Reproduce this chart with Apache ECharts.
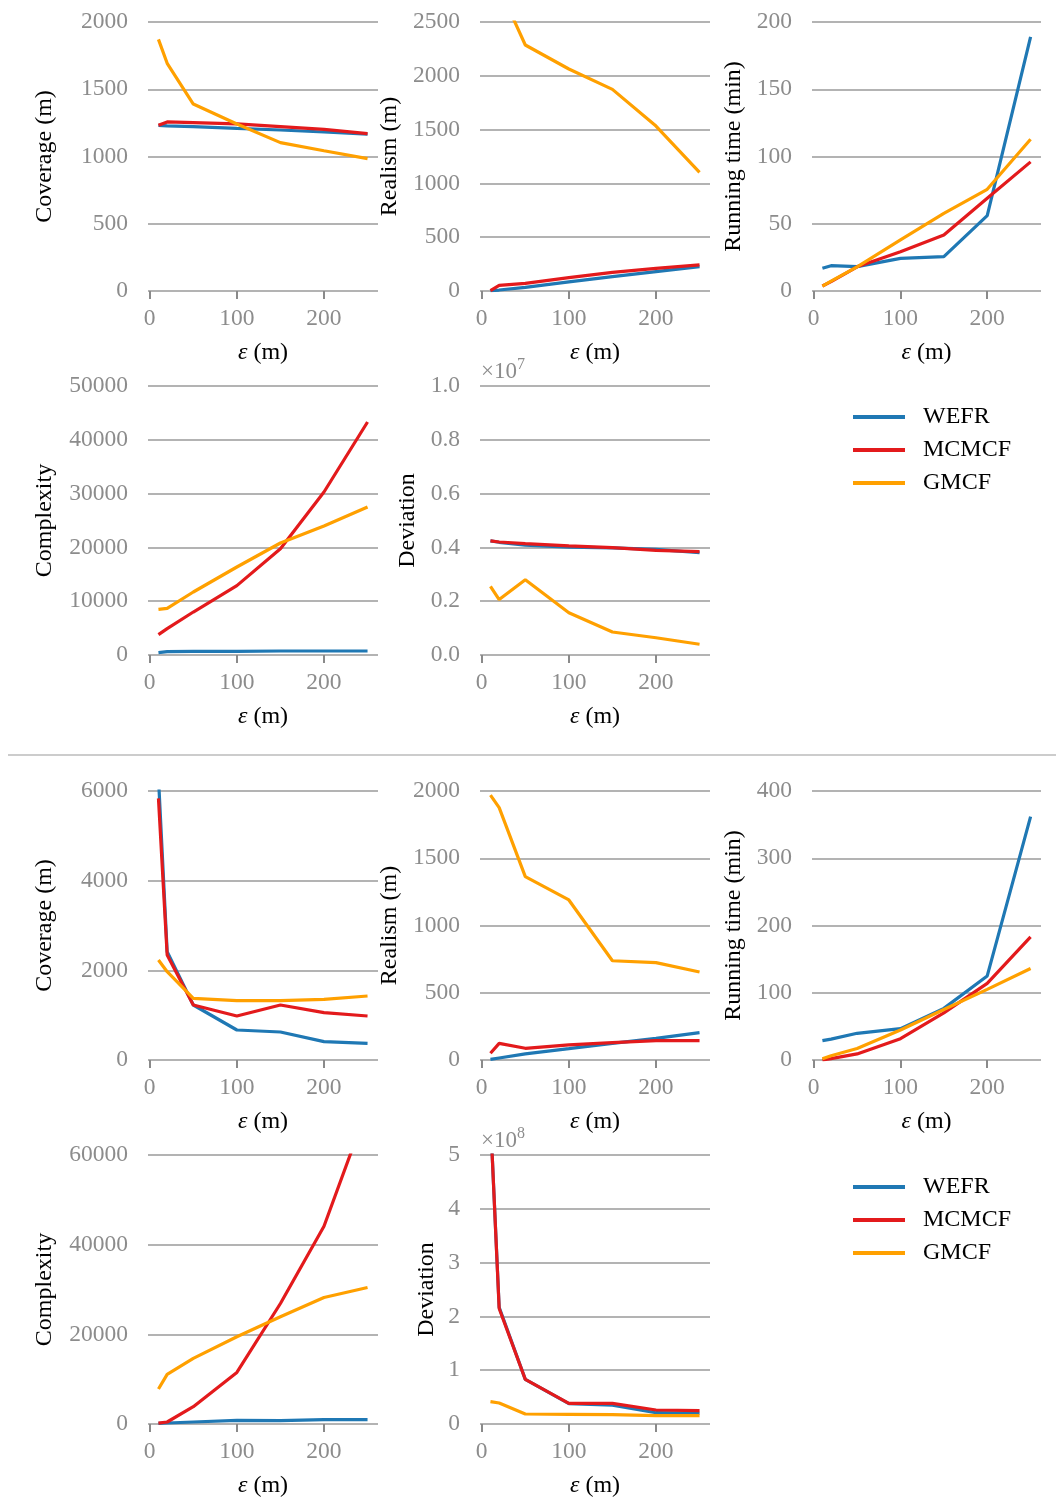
<!DOCTYPE html>
<html>
<head>
<meta charset="utf-8">
<script src="https://cdn.jsdelivr.net/npm/echarts@6/dist/echarts.min.js"></script>
<style>
  html, body { margin: 0; padding: 0; background: #fff; }
  #chart { width: 1056px; height: 1499px; }
</style>
</head>
<body>
<div id="chart"></div>
<script>
// Tolerance ε (m) at which every method was evaluated
const epsilon = [10, 20, 50, 100, 150, 200, 250];
const methods = ['WEFR', 'MCMCF', 'GMCF'];
const xTicks = [0, 100, 200];

// First data set — rows follow the order of `methods`
const coverageA = [
  [1232, 1227, 1222, 1209, 1197, 1182, 1167],
  [1232, 1257, 1252, 1242, 1222, 1202, 1170],
  [1871, 1693, 1390, 1242, 1103, 1043, 984]
];
const realismA = [
  [3, 9, 34, 84, 133, 180, 226],
  [3, 53, 71, 124, 173, 211, 242],
  [3050, 2820, 2286, 2063, 1874, 1533, 1103]
];
const runtimeA = [
  [16.9, 18.8, 18.1, 24.3, 25.5, 56, 189],
  [3.7, 7.0, 18, 29.2, 41.6, 69, 96],
  [3.7, 7.3, 18, 38, 57.7, 75.6, 112.8]
];
const complexityA = [
  [434, 620, 680, 680, 740, 740, 740],
  [3780, 4895, 7990, 12890, 19765, 30297, 43309],
  [8488, 8674, 11710, 16357, 20818, 23978, 27509]
];
const deviationA = [
  [4.24e6, 4.19e6, 4.08e6, 4.01e6, 3.98e6, 3.93e6, 3.80e6],
  [4.24e6, 4.20e6, 4.14e6, 4.06e6, 3.99e6, 3.89e6, 3.84e6],
  [2.55e6, 2.06e6, 2.80e6, 1.57e6, 0.855e6, 0.64e6, 0.40e6]
];

// Second data set
const coverageB = [
  [6300, 2416, 1227, 669, 625, 409, 372],
  [5836, 2342, 1227, 981, 1227, 1056, 981],
  [2230, 1970, 1375, 1323, 1323, 1353, 1428]
];
const realismB = [
  [5, 15, 45, 84, 124, 161, 203],
  [50, 124, 87, 112, 129, 144, 144],
  [1970, 1876, 1363, 1190, 738, 724, 654]
];
const runtimeB = [
  [28.7, 31, 39.7, 46.6, 76.8, 125, 362],
  [0, 2, 9, 31.7, 70, 114, 183],
  [2, 6.4, 17, 44.6, 75, 105, 136]
];
const complexityB = [
  [150, 220, 445, 817, 742, 965, 965],
  [200, 445, 3861, 11510, 26881, 44109, 70600],
  [7797, 11064, 14629, 19455, 23911, 28218, 30446]
];
const deviationB = [
  [5.7e8, 2.17e8, 0.83e8, 0.38e8, 0.35e8, 0.21e8, 0.20e8],
  [5.7e8, 2.147e8, 0.829e8, 0.384e8, 0.384e8, 0.26e8, 0.248e8],
  [0.415e8, 0.39e8, 0.186e8, 0.18e8, 0.173e8, 0.155e8, 0.155e8]
];

// Y-axis tick settings: [max, interval] per panel
const yTicksCoverageA = [2000, 500];
const yTicksRealismA = [2500, 500];
const yTicksRuntimeA = [200, 50];
const yTicksComplexityA = [50000, 10000];
const yTicksDeviationA = [1e7, 2e6];
const yTicksCoverageB = [6000, 2000];
const yTicksRealismB = [2000, 500];
const yTicksRuntimeB = [400, 100];
const yTicksComplexityB = [60000, 20000];
const yTicksDeviationB = [5e8, 1e8];

const colors = ['#1f78b4', '#e31a1c', '#ffa000'];
const SERIF = "'Liberation Serif', 'DejaVu Serif', serif";
const TICK_COLOR = '#8c8c8c';
const GRID_COLOR = '#b3b3b3';

const colLeft = [148, 480, 812];
const colWidth = [230, 230, 229];
const rowTop = [22, 386, 791, 1155];
const plotHeight = 269;

// Panel layout: column, row, data, y ticks, axis title, title gap, label scaling
const panels = [
  { c: 0, r: 0, data: coverageA, y: yTicksCoverageA, title: 'Coverage (m)', gap: 91 },
  { c: 1, r: 0, data: realismA, y: yTicksRealismA, title: 'Realism (m)', gap: 78 },
  { c: 2, r: 0, data: runtimeA, y: yTicksRuntimeA, title: 'Running time (min)', gap: 66 },
  { c: 0, r: 1, data: complexityA, y: yTicksComplexityA, title: 'Complexity', gap: 91 },
  { c: 1, r: 1, data: deviationA, y: yTicksDeviationA, title: 'Deviation', gap: 60, scale: 1e7, digits: 1 },
  { c: 0, r: 2, data: coverageB, y: yTicksCoverageB, title: 'Coverage (m)', gap: 91 },
  { c: 1, r: 2, data: realismB, y: yTicksRealismB, title: 'Realism (m)', gap: 78 },
  { c: 2, r: 2, data: runtimeB, y: yTicksRuntimeB, title: 'Running time (min)', gap: 66 },
  { c: 0, r: 3, data: complexityB, y: yTicksComplexityB, title: 'Complexity', gap: 91 },
  { c: 1, r: 3, data: deviationB, y: yTicksDeviationB, title: 'Deviation', gap: 41, scale: 1e8, digits: 0 }
];

const grid = [], xAxis = [], yAxis = [], series = [];

panels.forEach((p, i) => {
  grid.push({
    left: colLeft[p.c], top: rowTop[p.r], width: colWidth[p.c], height: plotHeight,
    containLabel: false, outerBoundsMode: 'none'
  });
  xAxis.push({
    gridIndex: i, type: 'value', min: -2, max: 262,
    axisLine: { show: false },
    splitLine: { show: false },
    axisTick: { show: true, customValues: xTicks, length: 8, lineStyle: { color: '#8a8a8a', width: 2 } },
    axisLabel: { customValues: xTicks, margin: 16, fontFamily: SERIF, fontSize: 23.5, color: TICK_COLOR },
    name: '{e|ε} (m)', nameLocation: 'middle', nameGap: 50, nameMoveOverlap: false,
    nameTextStyle: {
      fontFamily: SERIF, fontSize: 24, color: '#000',
      rich: { e: { fontFamily: SERIF, fontSize: 24, fontStyle: 'italic', color: '#000' } }
    }
  });
  yAxis.push({
    gridIndex: i, type: 'value', min: 0, max: p.y[0], interval: p.y[1],
    axisLine: { show: false }, axisTick: { show: false },
    splitLine: { show: true, lineStyle: { color: GRID_COLOR, width: 2 } },
    axisLabel: {
      margin: 20, fontFamily: SERIF, fontSize: 23.5, color: TICK_COLOR,
      formatter: p.scale ? (v) => (v / p.scale).toFixed(p.digits) : (v) => String(v)
    },
    name: p.title, nameLocation: 'middle', nameGap: p.gap, nameRotate: 90, nameMoveOverlap: false,
    nameTextStyle: { fontFamily: SERIF, fontSize: 24, color: '#000' }
  });
  methods.forEach((m, k) => {
    series.push({
      name: m, type: 'line', xAxisIndex: i, yAxisIndex: i,
      data: epsilon.map((x, j) => [x, p.data[k][j]]),
      showSymbol: false, symbol: 'none', clip: true,
      lineStyle: { color: colors[k], width: 3.2 },
      itemStyle: { color: colors[k] },
      z: 2 + k
    });
  });
});

const legendBase = {
  orient: 'vertical', left: 848, data: methods,
  icon: 'rect', itemWidth: 52, itemHeight: 4, itemGap: 9,
  textStyle: { fontFamily: SERIF, fontSize: 24, color: '#000', lineHeight: 24, padding: [0, 0, 0, 13] }
};

const offsetText = (top, exp) => ({
  type: 'text', left: 481, top: top,
  style: {
    text: '{a|×10}{s|' + exp + '}',
    rich: {
      a: { fontFamily: SERIF, fontSize: 23, fill: TICK_COLOR, verticalAlign: 'bottom', lineHeight: 26 },
      s: { fontFamily: SERIF, fontSize: 16, fill: TICK_COLOR, verticalAlign: 'top', lineHeight: 26 }
    }
  }
});

const chart = echarts.init(document.getElementById('chart'), null, { renderer: 'canvas' });
chart.setOption({
  animation: false,
  backgroundColor: '#fff',
  grid, xAxis, yAxis, series,
  legend: [
    Object.assign({}, legendBase, { top: 400 }),
    Object.assign({}, legendBase, { top: 1170 })
  ],
  graphic: [
    { type: 'line', shape: { x1: 8, y1: 755, x2: 1056, y2: 755 }, style: { stroke: '#999', lineWidth: 1 } },
    offsetText(357, 7),
    offsetText(1126, 8)
  ]
});
</script>
</body>
</html>
